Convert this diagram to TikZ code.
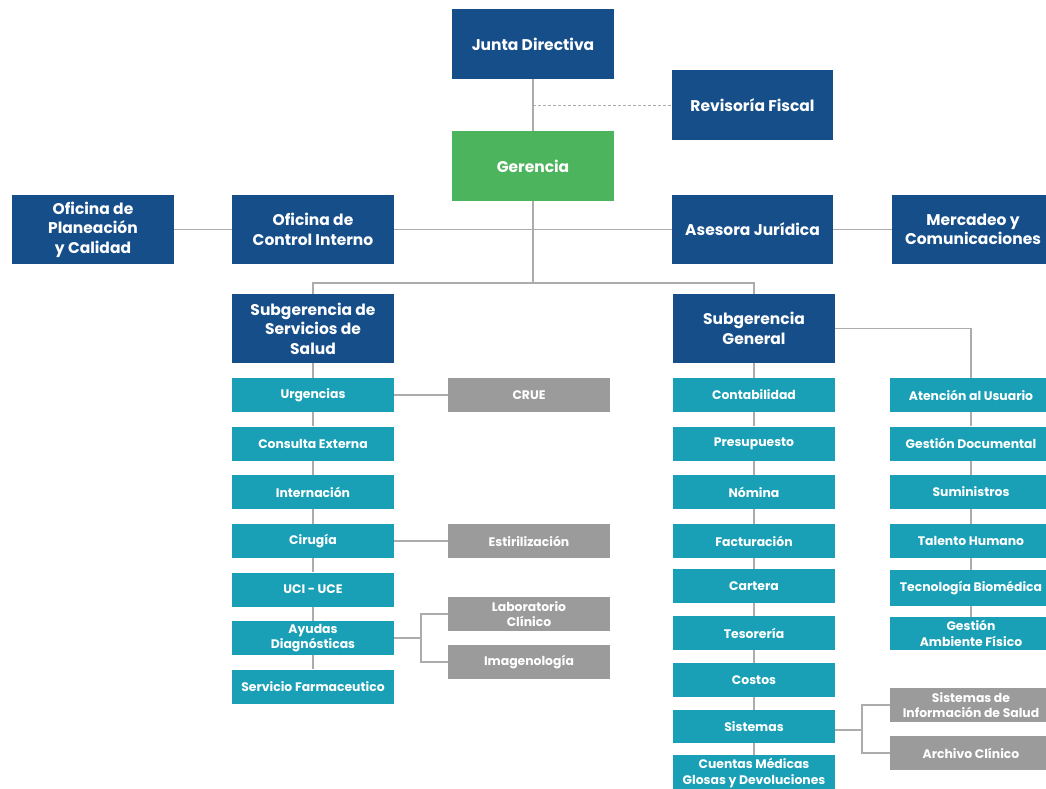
\documentclass[tikz,border=0pt]{standalone}
\usepackage{fontspec}
\setmainfont{Poppins}
\definecolor{cblue}{RGB}{22,78,138}
\definecolor{cgreen}{RGB}{76,180,92}
\definecolor{cteal}{RGB}{26,160,182}
\definecolor{cgray}{RGB}{155,155,155}
\definecolor{cline}{RGB}{172,172,172}
\tikzset{
  box/.style={rectangle, inner sep=0pt, minimum width=162pt, text=white, align=center, font=\bfseries},
  bigbox/.style={box, fill=cblue, minimum height=70pt, font=\bfseries\fontsize{15.5}{19.5}\selectfont},
  greenbox/.style={bigbox, fill=cgreen},
  unitbox/.style={box, fill=cteal, minimum height=34pt, font=\bfseries\fontsize{12.4}{15.5}\selectfont},
  subbox/.style={unitbox, fill=cgray},
  conn/.style={draw=cline, line width=1.5pt},
  dconn/.style={conn, line width=1pt, dash pattern=on 3pt off 2pt}
}
\begin{document}
\begin{tikzpicture}[x=1pt,y=-1pt]
\useasboundingbox[fill=white] (0,0) rectangle (1046,788);
% top level
\node[bigbox] (junta) at (533,44) {Junta Directiva};
\node[bigbox, minimum width=161pt] (rev) at (752.5,105) {Revisoría Fiscal};
\node[greenbox] (ger) at (533,166) {Gerencia};
\node[bigbox, minimum height=69pt] (ofp) at (93,229.5) {Oficina de\\Planeación\\y Calidad};
\node[bigbox, minimum height=69pt] (oci) at (313,229.5) {Oficina de\\Control Interno};
\node[bigbox, minimum height=69pt, minimum width=161pt] (aj) at (752.5,229.5) {Asesora Jurídica};
\node[bigbox, minimum height=69pt] (mer) at (973,229.5) {Mercadeo y\\Comunicaciones};
\node[bigbox, minimum height=69pt] (ssal) at (313,328.5) {Subgerencia de\\Servicios de\\Salud};
\node[bigbox, minimum height=69pt] (sgen) at (754,328.5) {Subgerencia\\General};
% left column
\node[unitbox] (urg) at (313,395) {Urgencias};
\node[unitbox] (con) at (313,443.5) {Consulta Externa};
\node[unitbox] (int) at (313,492) {Internación};
\node[unitbox] (cir) at (313,541) {Cirugía};
\node[unitbox] (uci) at (313,589.5) {UCI - UCE};
\node[unitbox] (ayu) at (313,638) {Ayudas\\Diagnósticas};
\node[unitbox] (far) at (313,686.5) {Servicio Farmaceutico};
\node[subbox] (crue) at (529,395) {CRUE};
\node[subbox] (est) at (529,541) {Estirilización};
\node[subbox] (lab) at (529,614) {Laboratorio\\Clínico};
\node[subbox] (ima) at (529,662) {Imagenología};
% middle column
\node[unitbox] (cont) at (754,395) {Contabilidad};
\node[unitbox] (pre) at (754,443.5) {Presupuesto};
\node[unitbox] (nom) at (754,492) {Nómina};
\node[unitbox] (fac) at (754,541) {Facturación};
\node[unitbox] (car) at (754,586) {Cartera};
\node[unitbox] (tes) at (754,633) {Tesorería};
\node[unitbox] (cos) at (754,680) {Costos};
\node[unitbox, minimum height=33pt] (sis) at (754,726.5) {Sistemas};
\node[unitbox, minimum height=36pt] (cue) at (754,773) {Cuentas Médicas\\Glosas y Devoluciones};
% right column
\node[unitbox] (ate) at (971,395) {Atención al Usuario};
\node[unitbox] (gdo) at (971,443.5) {Gestión Documental};
\node[unitbox] (sum) at (971,492) {Suministros};
\node[unitbox] (tal) at (971,541) {Talento Humano};
\node[unitbox, minimum height=36pt] (tec) at (971,588) {Tecnología Biomédica};
\node[unitbox, minimum height=33pt] (gam) at (971,633.5) {Gestión\\Ambiente Físico};
\node[subbox] (sin) at (971,705) {Sistemas de\\Información de Salud};
\node[subbox] (arc) at (971,753) {Archivo Clínico};
% connectors
\draw[conn] (junta.south) -- (ger.north);
\coordinate (jr) at (533,105);
\draw[dconn] (jr) -- (rev.west);
\draw[conn] (ofp.east) -- (oci.west);
\draw[conn] (oci.east) -- (aj.west);
\draw[conn] (aj.east) -- (mer.west);
\coordinate (bus) at (533,283);
\draw[conn] (ger.south) -- (bus);
\draw[conn] (ssal.north) |- (bus) -| (sgen.north);
\draw[conn] (ssal.south) -- (urg.north);
\draw[conn] (urg.south) -- (con.north);
\draw[conn] (con.south) -- (int.north);
\draw[conn] (int.south) -- (cir.north);
\draw[conn] (cir.south) -- (uci.north);
\draw[conn] (uci.south) -- (ayu.north);
\draw[conn] (ayu.south) -- (far.north);
\draw[conn] (urg.east) -- (crue.west);
\draw[conn] (cir.east) -- (est.west);
\coordinate (fa) at (421,638);
\draw[conn] (ayu.east) -- (fa);
\draw[conn] (lab.west) -| (fa) |- (ima.west);
\draw[conn] (sgen.south) -- (cont.north);
\draw[conn] (cont.south) -- (pre.north);
\draw[conn] (pre.south) -- (nom.north);
\draw[conn] (nom.south) -- (fac.north);
\draw[conn] (fac.south) -- (car.north);
\draw[conn] (car.south) -- (tes.north);
\draw[conn] (tes.south) -- (cos.north);
\draw[conn] (cos.south) -- (sis.north);
\draw[conn] (sis.south) -- (cue.north);
\draw[conn] (sgen.east) -| (ate.north);
\draw[conn] (ate.south) -- (gdo.north);
\draw[conn] (gdo.south) -- (sum.north);
\draw[conn] (sum.south) -- (tal.north);
\draw[conn] (tal.south) -- (tec.north);
\draw[conn] (tec.south) -- (gam.north);
\coordinate (fb) at (862,730);
\draw[conn] (sis.east |- fb) -- (fb);
\draw[conn] (sin.west) -| (fb) |- (arc.west);
\end{tikzpicture}
\end{document}
